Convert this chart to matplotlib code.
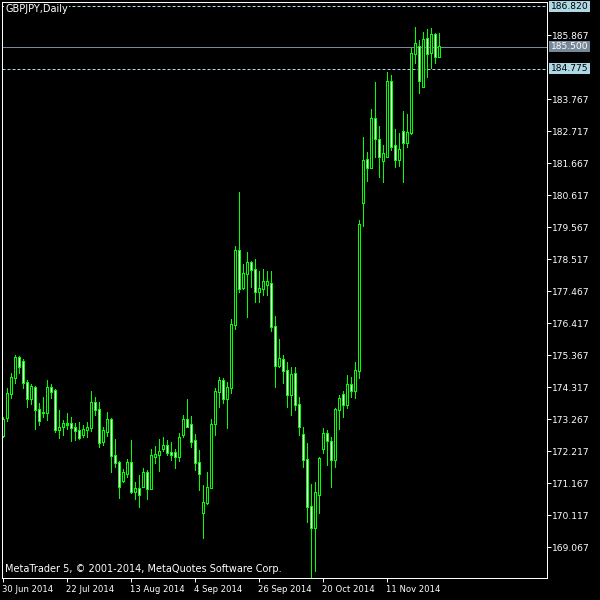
import matplotlib
matplotlib.use("Agg")
import matplotlib.pyplot as plt
import matplotlib.transforms as mtrans
from matplotlib.patches import Rectangle
import pandas as pd

# ---------------- data (GBPJPY, Daily) ----------------
opens = [172.74, 173.32, 174.13, 174.66, 175.29, 175.16, 174.49, 173.94, 174.33, 173.58,
         173.48, 173.48, 174.30, 174.23, 172.95, 173.05, 173.09, 173.15, 173.02, 172.92,
         172.79, 172.95, 173.02, 173.84, 173.58, 172.56, 172.86, 173.28, 172.10, 171.87,
         171.25, 171.51, 171.87, 170.92, 170.99, 171.08, 171.54, 170.99, 172.04, 172.13,
         172.33, 172.40, 172.17, 172.17, 172.04, 172.79, 173.25, 173.09, 172.59, 171.84,
         170.20, 170.53, 171.05, 173.12, 174.17, 174.56, 173.94, 174.33, 176.37, 178.80,
         177.61, 178.07, 178.43, 178.20, 177.45, 177.58, 177.71, 177.74, 176.33, 175.05,
         175.25, 174.86, 174.10, 174.76, 173.77, 172.79, 171.97, 170.40, 169.71, 170.82,
         172.30, 172.82, 172.56, 171.97, 173.58, 174.10, 173.77, 174.43, 174.23, 174.89,
         180.37, 181.81, 181.55, 183.13, 182.44, 181.75, 181.91, 184.37, 182.24, 181.81,
         182.70, 182.37, 182.67, 185.29, 185.52, 184.18, 185.78, 185.32, 185.91, 185.19]
highs = [173.35, 174.30, 174.79, 175.39, 175.35, 175.26, 174.56, 174.43, 174.36, 173.81,
         174.00, 174.56, 174.43, 174.27, 173.58, 173.25, 173.48, 173.35, 173.15, 173.18,
         173.09, 173.18, 174.20, 174.00, 173.84, 173.02, 173.51, 173.32, 172.63, 171.90,
         171.64, 171.97, 172.59, 171.22, 171.45, 171.68, 171.61, 172.30, 172.40, 172.63,
         172.69, 172.59, 172.53, 172.30, 172.82, 173.41, 173.94, 173.38, 172.79, 172.27,
         171.12, 171.54, 173.28, 174.30, 174.66, 174.63, 174.50, 176.56, 178.96, 180.73,
         178.37, 178.76, 178.47, 178.53, 178.14, 178.20, 178.14, 178.14, 176.66, 175.91,
         175.38, 175.15, 174.99, 174.99, 174.00, 173.02, 172.50, 171.15, 171.22, 172.04,
         172.99, 172.92, 172.69, 173.64, 174.07, 174.20, 174.73, 174.66, 175.15, 179.81,
         182.54, 182.04, 183.45, 184.34, 182.90, 182.27, 184.67, 184.57, 182.80, 182.67,
         183.39, 183.29, 185.46, 186.14, 185.72, 185.98, 186.08, 186.11, 185.95, 185.95]
lows = [172.69, 173.22, 173.97, 174.46, 174.79, 174.30, 173.68, 173.78, 172.95, 173.09,
        173.35, 173.25, 173.97, 172.86, 172.66, 172.76, 172.95, 172.56, 172.59, 172.64,
        172.69, 172.69, 172.89, 173.41, 172.36, 172.43, 172.72, 171.54, 171.71, 170.69,
        171.22, 171.38, 170.87, 170.66, 170.40, 171.07, 170.66, 170.97, 171.84, 171.58,
        172.23, 172.10, 171.94, 171.68, 171.90, 172.69, 173.02, 172.36, 171.61, 170.95,
        169.38, 170.51, 171.02, 172.76, 173.68, 173.81, 172.99, 174.13, 176.24, 177.45,
        177.55, 176.63, 177.61, 177.12, 177.12, 177.35, 177.35, 176.17, 174.33, 174.99,
        174.46, 173.68, 173.41, 173.58, 172.76, 171.71, 169.90, 168.00, 168.30, 170.20,
        172.17, 171.77, 171.05, 171.71, 172.95, 173.35, 173.64, 174.00, 173.97, 174.63,
        179.62, 181.09, 181.53, 181.88, 181.22, 181.06, 181.88, 182.11, 181.55, 181.58,
        181.06, 182.21, 182.63, 184.96, 183.98, 184.16, 184.50, 184.80, 184.96, 185.17]
closes = [173.28, 174.13, 174.66, 175.29, 175.02, 174.49, 173.94, 174.36, 173.58, 173.22,
          173.51, 174.30, 174.20, 172.95, 173.02, 173.12, 173.15, 173.02, 172.89, 172.69,
          172.95, 173.02, 173.84, 173.58, 172.50, 172.89, 173.25, 172.10, 171.87, 171.08,
          171.54, 171.87, 170.92, 170.99, 170.79, 171.54, 170.99, 172.07, 172.13, 172.20,
          172.40, 172.17, 172.13, 172.04, 172.69, 173.25, 173.05, 172.56, 171.84, 171.51,
          170.53, 171.05, 173.09, 174.17, 174.56, 173.94, 174.33, 176.37, 178.80, 177.58,
          178.07, 178.43, 178.20, 177.45, 177.58, 177.78, 177.78, 176.33, 175.05, 175.28,
          174.86, 174.10, 174.73, 173.77, 173.05, 171.97, 170.40, 169.71, 170.86, 172.00,
          172.82, 172.59, 171.97, 173.58, 173.97, 173.77, 174.43, 174.23, 174.89, 179.65,
          181.78, 181.55, 183.13, 182.47, 181.88, 181.98, 184.37, 182.21, 181.81, 182.14,
          182.37, 182.67, 185.29, 185.59, 184.40, 185.75, 185.29, 185.91, 185.19, 185.50]

first_date = "2014-06-30"
date_labels = ["30 Jun 2014", "22 Jul 2014", "13 Aug 2014", "4 Sep 2014",
               "26 Sep 2014", "20 Oct 2014", "11 Nov 2014"]
price_ticks = [169.067, 170.117, 171.167, 172.217, 173.267, 174.317, 175.367,
               176.417, 177.467, 178.517, 179.567, 180.617, 181.667, 182.717,
               183.767, 185.867]
level_high = 186.820
level_bid = 185.500
level_low = 184.775
title = "GBPJPY,Daily"
copyright_text = "MetaTrader 5, \u00a9 2001-2014, MetaQuotes Software Corp."

# ---------------- drawing ----------------
W = H = 600
PX = 0.72  # one pixel in points at dpi 100
GREEN = "#00ff00"
LBLUE = "#add8e6"
SLATE = "#778899"
YMIN, YMAX = 168.066, 186.964
PY = (YMAX - YMIN) / 576.0  # price per pixel

fig = plt.figure(figsize=(6, 6), dpi=100, facecolor="black")
ax = fig.add_axes([2 / W, 22 / H, 545 / W, 576 / H], facecolor="black")

n = len(opens)
dates = pd.bdate_range(first_date, periods=n)
date_strs = [f"{d.day} {d.strftime('%b %Y')}" for d in dates]
tick_pos = [date_strs.index(s) for s in date_labels]

ax.set_xlim(-0.125, 136.125)
ax.set_ylim(YMIN, YMAX)

# level lines
ax.axhline(level_high, color=LBLUE, lw=PX, dashes=(3, 2), zorder=1)
ax.axhline(level_low, color=LBLUE, lw=PX, dashes=(3, 2), zorder=1)
ax.axhline(level_bid, color=SLATE, lw=PX, zorder=1)

wick_x, wick_lo, wick_hi = [], [], []
body_x, body_lo, body_hi = [], [], []
bull_x, bull_lo, bull_hi = [], [], []
bear_x, bear_lo, bear_hi = [], [], []
for i in range(n):
    o, h, l, c = opens[i], highs[i], lows[i], closes[i]
    wick_x.append(i); wick_lo.append(l); wick_hi.append(h)
    top = max(o, c) + 0.5 * PY
    bot = min(o, c) - 0.5 * PY
    body_x.append(i); body_lo.append(bot); body_hi.append(top)
    if top - bot > 2.2 * PY:
        if c < o:
            bear_x.append(i); bear_lo.append(bot + PY); bear_hi.append(top - PY)
        else:
            bull_x.append(i); bull_lo.append(bot + PY); bull_hi.append(top - PY)

ax.vlines(wick_x, wick_lo, wick_hi, color=GREEN, lw=PX, zorder=2,
          antialiased=False, capstyle="butt")
ax.vlines(body_x, body_lo, body_hi, color=GREEN, lw=3 * PX, zorder=3,
          antialiased=False, capstyle="butt")
ax.vlines(bull_x, bull_lo, bull_hi, color="black", lw=PX, zorder=4,
          antialiased=False, capstyle="butt")
ax.vlines(bear_x, bear_lo, bear_hi, color="white", lw=PX, zorder=4,
          antialiased=False, capstyle="butt")

# frame
for s in ax.spines.values():
    s.set_color("white")
    s.set_linewidth(PX)
    s.set_zorder(10)

ax.yaxis.tick_right()
ax.set_yticks(price_ticks)
ax.set_yticklabels([f"{p:.3f}" for p in price_ticks])
ax.set_xticks(tick_pos)
ax.set_xticklabels(date_labels, ha="left")
ax.tick_params(axis="both", colors="white", direction="out", length=4 * PX,
               width=PX, labelsize=6.6, pad=1)
ax.tick_params(axis="x", pad=2, labelsize=6.1)

# price label boxes on the right scale
bt = mtrans.blended_transform_factory(fig.transFigure, ax.transData)
box_h = 11 * PY
for lvl, bg, fg in [(level_high, LBLUE, "black"), (level_bid, SLATE, "white"),
                    (level_low, LBLUE, "black")]:
    rect = Rectangle((549 / W, lvl - box_h / 2), 41 / W, box_h, transform=bt,
                     facecolor=bg, edgecolor="none", clip_on=False, zorder=20)
    fig.add_artist(rect)
    t = fig.text(551 / W, 0, f"{lvl:.3f}", transform=bt, color=fg, fontsize=6.6,
                 va="center", ha="left", zorder=21)
    t.set_y(lvl)

fig.text(5 / W, 1 - 9 / H, title, color="white", fontsize=7, va="center", ha="left",
         bbox=dict(facecolor="black", edgecolor="none", pad=1), zorder=30)
fig.text(5 / W, 1 - 569 / H, copyright_text, color="white", fontsize=7,
         va="center", ha="left", zorder=30)

fig.savefig("out.png", dpi=100, facecolor="black")
